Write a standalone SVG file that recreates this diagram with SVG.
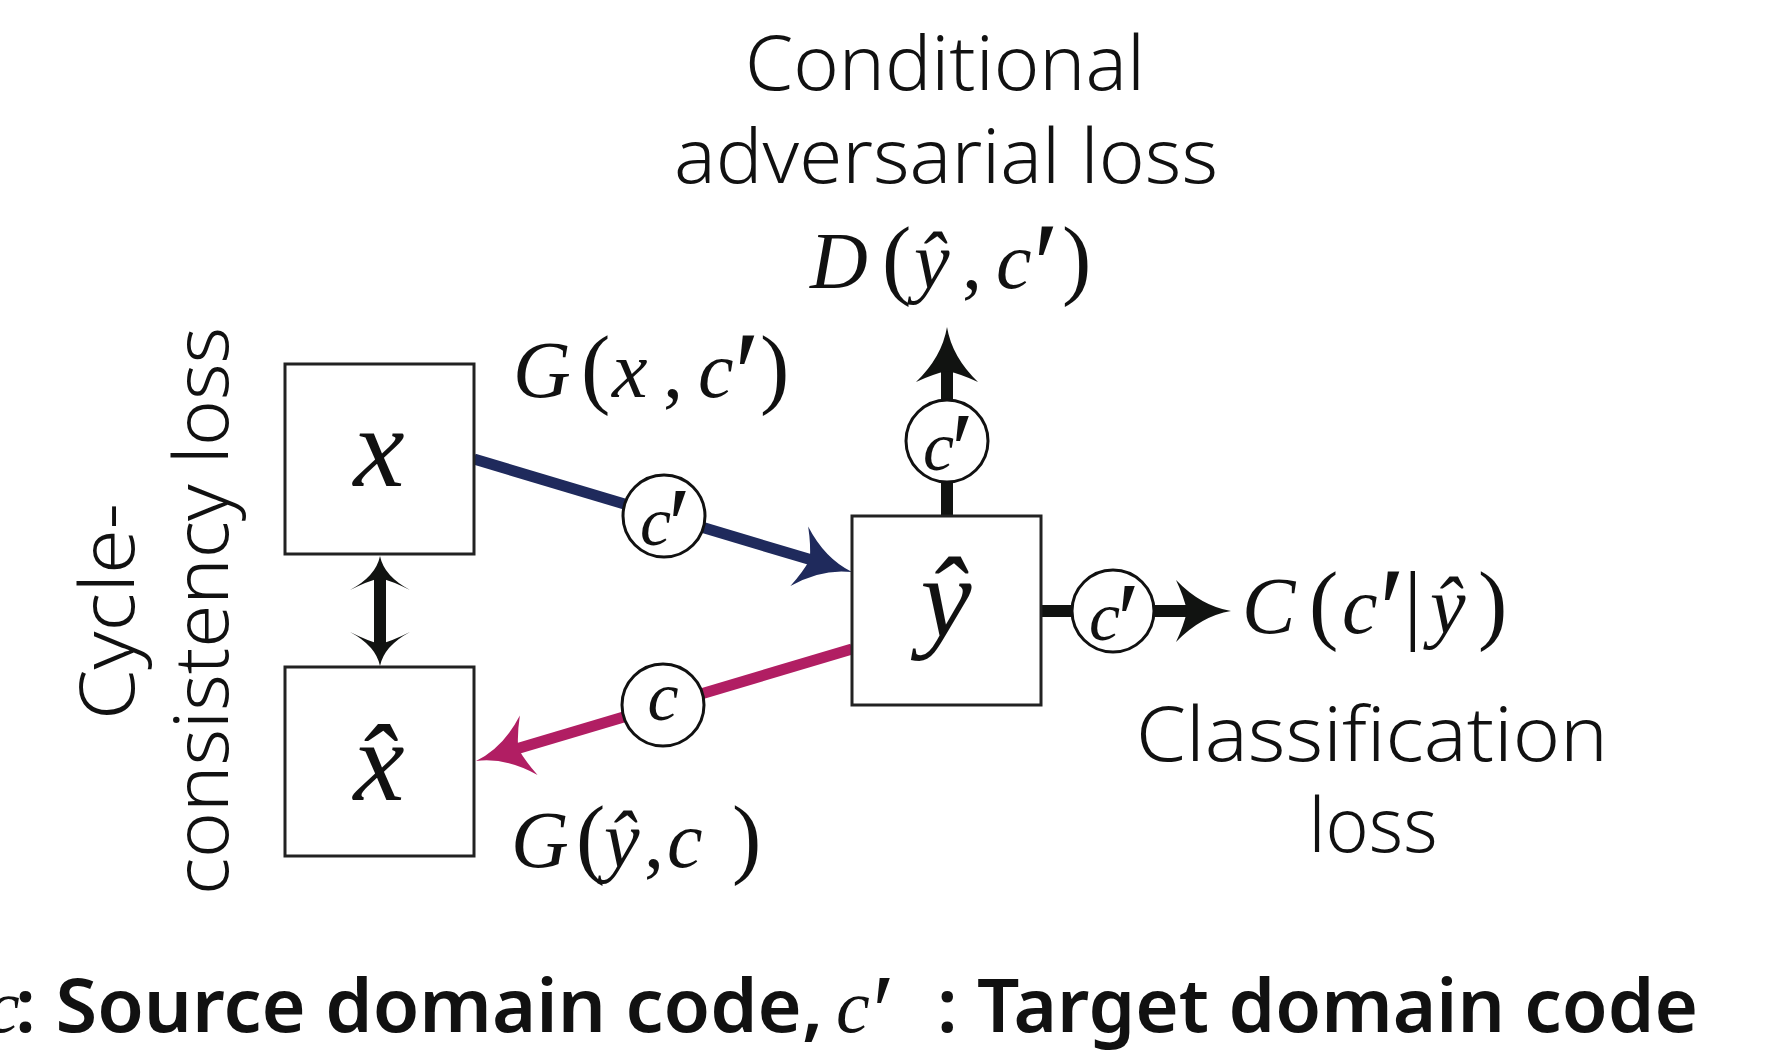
<svg xmlns="http://www.w3.org/2000/svg" width="1769" height="1061" viewBox="0 0 1769 1061">
<style>
.box{fill:#fff;stroke:#222;stroke-width:3}
.circ{fill:#fff;stroke:#111;stroke-width:3}
.t{font-family:"Noto Sans","Open Sans",sans-serif;font-weight:300;font-size:75px;fill:#111}
.b{font-family:"Noto Sans","Open Sans","Liberation Sans",sans-serif;font-weight:600;font-size:74px;fill:#111}
.m{font-family:"Liberation Serif","Times New Roman",serif;font-style:italic;font-size:80px;fill:#111}
.big{font-size:115px}
.cl{font-size:70px}
.u{font-style:normal;font-size:88px}
.p{font-style:normal;font-size:120px}
.pc{font-style:normal;font-size:105px}
</style>
<defs>
<marker id="ahB" markerUnits="userSpaceOnUse" viewBox="-20 -35 70 70" markerWidth="70" markerHeight="70" refX="3" refY="0" orient="auto" overflow="visible"><path d="M44,0 Q14,-5 -11,-31 Q-3,-14 0,0 Q-3,14 -11,31 Q14,5 44,0 Z" fill="#1f2a5c"/></marker>
<marker id="ahP" markerUnits="userSpaceOnUse" viewBox="-20 -35 70 70" markerWidth="70" markerHeight="70" refX="3" refY="0" orient="auto" overflow="visible"><path d="M44,0 Q14,-5 -11,-31 Q-3,-14 0,0 Q-3,14 -11,31 Q14,5 44,0 Z" fill="#b11e63"/></marker>
<marker id="ahK" markerUnits="userSpaceOnUse" viewBox="-20 -35 70 70" markerWidth="70" markerHeight="70" refX="3" refY="0" orient="auto" overflow="visible"><path d="M44,0 Q14,-5 -11,-31 Q-3,-14 0,0 Q-3,14 -11,31 Q14,5 44,0 Z" fill="#111311"/></marker>
<marker id="ahS" markerUnits="userSpaceOnUse" viewBox="-20 -35 70 70" markerWidth="70" markerHeight="70" refX="3" refY="0" orient="auto-start-reverse" overflow="visible"><path d="M22,0 Q2,-4 -12,-30 Q-3,-12 0,0 Q-3,12 -12,30 Q2,4 22,0 Z" fill="#111311"/></marker>
</defs>
<rect width="1769" height="1061" fill="#fff"/>

<g id="connectors" fill="none">
<line x1="474" y1="459" x2="812.7" y2="560.3" stroke="#1f2a5c" stroke-width="11" marker-end="url(#ahB)"/>
<line x1="852" y1="649" x2="515.3" y2="749.3" stroke="#b11e63" stroke-width="11" marker-end="url(#ahP)"/>
<line x1="380" y1="575" x2="380" y2="647" stroke="#111311" stroke-width="12" marker-start="url(#ahS)" marker-end="url(#ahS)"/>
<line x1="947" y1="516" x2="947" y2="368" stroke="#111311" stroke-width="12" marker-end="url(#ahK)"/>
<line x1="1041" y1="611" x2="1190" y2="611" stroke="#111311" stroke-width="12" marker-end="url(#ahK)"/>
</g>

<g id="node-x">
<rect class="box" x="285" y="364" width="189" height="190"/>
<text class="m big" x="379" y="486" text-anchor="middle">x</text>
</g>
<g id="node-xhat">
<rect class="box" x="285" y="667" width="189" height="189"/>
<text class="m big" x="379" y="800" text-anchor="middle">x̂</text>
</g>
<g id="node-yhat">
<rect class="box" x="852" y="516" width="189" height="189"/>
<text class="m big" x="946" y="637" text-anchor="middle">ŷ</text>
</g>

<g id="code-blue">
<circle class="circ" cx="664" cy="516" r="41"/>
<text class="m cl"><tspan x="640" y="545">c</tspan><tspan class="pc" x="668" y="561">′</tspan></text>
</g>
<g id="code-pink">
<circle class="circ" cx="663" cy="705" r="41"/>
<text class="m cl" x="663" y="720" text-anchor="middle">c</text>
</g>
<g id="code-up">
<circle class="circ" cx="947" cy="441" r="41"/>
<text class="m cl"><tspan x="923" y="470">c</tspan><tspan class="pc" x="951" y="486">′</tspan></text>
</g>
<g id="code-right">
<circle class="circ" cx="1113" cy="611" r="41"/>
<text class="m cl"><tspan x="1089" y="640">c</tspan><tspan class="pc" x="1117" y="656">′</tspan></text>
</g>

<g id="label-gx">
<text class="m"><tspan x="513" y="397">G</tspan><tspan class="u" x="581" y="397">(</tspan><tspan x="612" y="397">x</tspan><tspan class="u" x="663" y="397" style="font-size:80px">,</tspan><tspan x="698" y="397">c</tspan><tspan class="p" x="734" y="415">′</tspan><tspan class="u" x="760" y="397">)</tspan></text>
</g>
<g id="label-gy">
<text class="m"><tspan x="511" y="867">G</tspan><tspan class="u" x="576" y="867">(</tspan><tspan x="604" y="867">ŷ</tspan><tspan class="u" x="644" y="867" style="font-size:80px">,</tspan><tspan x="667" y="867">c</tspan><tspan class="u" x="732" y="867">)</tspan></text>
</g>
<g id="label-d">
<text class="m"><tspan x="810" y="288">D</tspan><tspan class="u" x="882" y="288">(</tspan><tspan x="914" y="288">ŷ</tspan><tspan class="u" x="962" y="288" style="font-size:80px">,</tspan><tspan x="996" y="288">c</tspan><tspan class="p" x="1033" y="306">′</tspan><tspan class="u" x="1062" y="288">)</tspan></text>
<text class="t" x="945" y="90" text-anchor="middle" textLength="400" lengthAdjust="spacingAndGlyphs">Conditional</text>
<text class="t" x="946" y="183" text-anchor="middle" textLength="544" lengthAdjust="spacingAndGlyphs">adversarial loss</text>
</g>
<g id="label-c">
<text class="m"><tspan x="1242" y="633">C</tspan><tspan class="u" x="1309" y="633">(</tspan><tspan x="1342" y="633">c</tspan><tspan class="p" x="1379" y="651">′</tspan><tspan class="u" x="1404" y="633">|</tspan><tspan x="1430" y="633">ŷ</tspan><tspan class="u" x="1478" y="633">)</tspan></text>
<text class="t" x="1372" y="761" text-anchor="middle" textLength="472" lengthAdjust="spacingAndGlyphs">Classification</text>
<text class="t" x="1373" y="852" text-anchor="middle" textLength="129" lengthAdjust="spacingAndGlyphs">loss</text>
</g>
<g id="label-cycle">
<text class="t" transform="translate(134,611.5) rotate(-90)" text-anchor="middle" textLength="217" lengthAdjust="spacingAndGlyphs">Cycle-</text>
<text class="t" transform="translate(228,611) rotate(-90)" text-anchor="middle" textLength="568" lengthAdjust="spacingAndGlyphs">consistency loss</text>
</g>
<g id="legend">
<text class="m" x="-14" y="1032" style="font-size:76px">c</text>
<text class="b" x="15" y="1032" textLength="808" lengthAdjust="spacingAndGlyphs">: Source domain code,</text>
<text class="m" style="font-size:76px"><tspan x="836" y="1032">c</tspan><tspan class="pc" x="872" y="1048">′</tspan></text>
<text class="b" x="937" y="1032" textLength="761" lengthAdjust="spacingAndGlyphs">: Target domain code</text>
</g>
</svg>
